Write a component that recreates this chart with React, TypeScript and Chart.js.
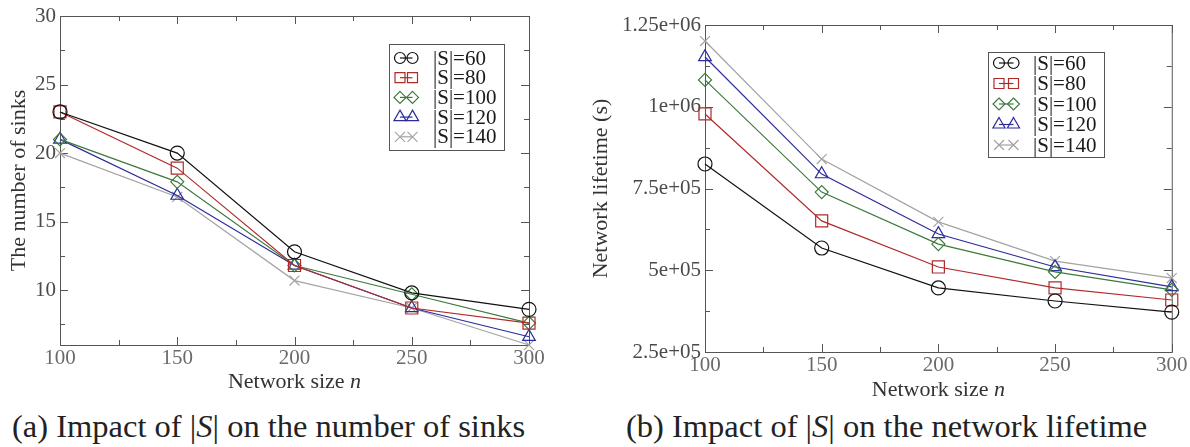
import { useEffect, useRef } from 'react';
import { Chart, registerables } from 'chart.js';

Chart.register(...registerables);

// ---------- data ----------
const networkSizes = [100, 150, 200, 250, 300];
const seriesLabels = ['|S|=60', '|S|=80', '|S|=100', '|S|=120', '|S|=140'];

const sinks60 = [23, 20, 12.8, 9.8, 8.6];
const sinks80 = [23, 18.9, 11.8, 8.7, 7.6];
const sinks100 = [21, 17.9, 11.8, 9.7, 7.6];
const sinks120 = [21, 16.9, 11.8, 8.7, 6.6];
const sinks140 = [20, 16.8, 10.7, 8.7, 6.0];

const life60 = [8.25e5, 5.68e5, 4.46e5, 4.06e5, 3.72e5];
const life80 = [9.78e5, 6.51e5, 5.1e5, 4.46e5, 4.09e5];
const life100 = [1.082e6, 7.39e5, 5.8e5, 4.95e5, 4.4e5];
const life120 = [1.152e6, 7.94e5, 6.11e5, 5.1e5, 4.49e5];
const life140 = [1.201e6, 8.4e5, 6.48e5, 5.28e5, 4.76e5];

const xTicks = [100, 150, 200, 250, 300];
const xTickLabels = ['100', '150', '200', '250', '300'];
const sinkTicks = [10, 15, 20, 25, 30];
const sinkTickLabels = ['10', '15', '20', '25', '30'];
const lifeTicks = [2.5e5, 5e5, 7.5e5, 1e6, 1.25e6];
const lifeTickLabels = ['2.5e+05', '5e+05', '7.5e+05', '1e+06', '1.25e+06'];

// ---------- styles ----------
const FONT = '"Liberation Serif", "DejaVu Serif", serif';
const seriesColors = ['#111111', '#b02a2a', '#3d7a3d', '#2b2b9c', '#a3a3a3'];
const pointStyles = ['circle', 'rect', 'rectRot', 'triangle', 'crossRot'];
const pointRadii = [7, 8.5, 6.5, 7.3, 7];
const legendSizes = [5.5, 5, 6, 7, 5];

function drawMarker(ctx: CanvasRenderingContext2D, style: string, x: number, y: number, r: number, color: string) {
  ctx.save();
  ctx.strokeStyle = color;
  ctx.lineWidth = 1.2;
  ctx.beginPath();
  if (style === 'circle') {
    ctx.arc(x, y, r, 0, Math.PI * 2);
  } else if (style === 'rect') {
    ctx.rect(x - r, y - r, 2 * r, 2 * r);
  } else if (style === 'rectRot') {
    ctx.moveTo(x, y - r);
    ctx.lineTo(x + r, y);
    ctx.lineTo(x, y + r);
    ctx.lineTo(x - r, y);
    ctx.closePath();
  } else if (style === 'triangle') {
    ctx.moveTo(x, y - r);
    ctx.lineTo(x + r * 0.866, y + r * 0.5);
    ctx.lineTo(x - r * 0.866, y + r * 0.5);
    ctx.closePath();
  } else {
    ctx.moveTo(x - r, y - r);
    ctx.lineTo(x + r, y + r);
    ctx.moveTo(x + r, y - r);
    ctx.lineTo(x - r, y + r);
  }
  ctx.stroke();
  ctx.restore();
}

function makeFramePlugin(xMinorStep: number, yMinorStep: number) {
  return {
    id: 'frameTicks',
    beforeDatasetsDraw(chart: any) {
      const { ctx, chartArea: a, scales } = chart;
      const xs = scales.x;
      const ys = scales.y;
      ctx.save();
      ctx.strokeStyle = '#555';
      ctx.lineWidth = 1;
      ctx.strokeRect(a.left + 0.5, a.top + 0.5, a.right - a.left, a.bottom - a.top);
      ctx.beginPath();
      const majX = xs.ticks.map((t: any) => t.value);
      const majY = ys.ticks.map((t: any) => t.value);
      const drawX = (v: number, len: number) => {
        const p = Math.round(xs.getPixelForValue(v)) + 0.5;
        ctx.moveTo(p, a.bottom);
        ctx.lineTo(p, a.bottom - len);
        ctx.moveTo(p, a.top);
        ctx.lineTo(p, a.top + len);
      };
      const drawY = (v: number, len: number) => {
        const p = Math.round(ys.getPixelForValue(v)) + 0.5;
        ctx.moveTo(a.left, p);
        ctx.lineTo(a.left + len, p);
        ctx.moveTo(a.right, p);
        ctx.lineTo(a.right - len, p);
      };
      majX.forEach((v: number) => drawX(v, 8));
      majY.forEach((v: number) => drawY(v, 8));
      for (let v = Math.ceil(xs.min / xMinorStep) * xMinorStep; v <= xs.max + 1e-9; v += xMinorStep) {
        if (!majX.some((m: number) => Math.abs(m - v) < 1e-6)) drawX(v, 5);
      }
      for (let v = Math.ceil(ys.min / yMinorStep) * yMinorStep; v <= ys.max + 1e-9; v += yMinorStep) {
        if (!majY.some((m: number) => Math.abs(m - v) < 1e-6 * Math.max(1, Math.abs(m)))) drawY(v, 5);
      }
      ctx.stroke();
      ctx.restore();
    },
  };
}

function makeXTitlePlugin(baseline: number) {
  return {
    id: 'xTitleMixed',
    afterDraw(chart: any) {
      const { ctx, chartArea: a } = chart;
      const cx = (a.left + a.right) / 2;
      ctx.save();
      ctx.fillStyle = '#333';
      ctx.textBaseline = 'alphabetic';
      ctx.font = `22px ${FONT}`;
      const t1 = 'Network size ';
      const w1 = ctx.measureText(t1).width;
      ctx.font = `italic 22px ${FONT}`;
      const w2 = ctx.measureText('n').width;
      const x0 = cx - (w1 + w2) / 2;
      ctx.font = `22px ${FONT}`;
      ctx.fillText(t1, x0, baseline);
      ctx.font = `italic 22px ${FONT}`;
      ctx.fillText('n', x0 + w1, baseline);
      ctx.restore();
    },
  };
}

interface LegendBox {
  x: number; y: number; w: number; h: number;
  row0: number; step: number; m1: number; m2: number; tx: number;
}

function makeLegendPlugin(b: LegendBox) {
  return {
    id: 'boxLegend',
    afterDraw(chart: any) {
      const { ctx } = chart;
      ctx.save();
      ctx.fillStyle = '#fff';
      ctx.fillRect(b.x, b.y, b.w, b.h);
      ctx.strokeStyle = '#555';
      ctx.lineWidth = 1;
      ctx.strokeRect(b.x + 0.5, b.y + 0.5, b.w, b.h);
      ctx.font = `21px ${FONT}`;
      ctx.textBaseline = 'middle';
      ctx.fillStyle = '#1a1a1a';
      seriesLabels.forEach((lab, i) => {
        const y = b.row0 + i * b.step;
        ctx.strokeStyle = seriesColors[i];
        ctx.lineWidth = 1.2;
        ctx.beginPath();
        ctx.moveTo(b.m1, y);
        ctx.lineTo(b.m2, y);
        ctx.stroke();
        drawMarker(ctx, pointStyles[i], b.m1, y, legendSizes[i], seriesColors[i]);
        drawMarker(ctx, pointStyles[i], b.m2, y, legendSizes[i], seriesColors[i]);
        ctx.fillStyle = '#1a1a1a';
        ctx.fillText(lab, b.tx, y + 1);
      });
      ctx.restore();
    },
  };
}

function buildDatasets(series: number[][]) {
  return series.map((vals, i) => ({
    label: seriesLabels[i],
    data: networkSizes.map((n, j) => ({ x: n, y: vals[j] })),
    borderColor: seriesColors[i],
    borderWidth: 1.2,
    pointStyle: pointStyles[i],
    pointRadius: pointRadii[i],
    pointBorderWidth: 1.2,
    pointBorderColor: seriesColors[i],
    pointBackgroundColor: 'rgba(0,0,0,0)',
    fill: false,
    tension: 0,
    clip: false,
  }));
}

interface ChartSpec {
  series: number[][];
  yMin: number; yMax: number;
  yTicks: number[]; yTickLabels: string[];
  yTitle: string; yTitlePad: number;
  yWidth: number; xHeight: number;
  padRight: number; padTop: number;
  yMinor: number;
  xTitleBaseline: number;
  legend: LegendBox;
}

function makeChart(canvas: HTMLCanvasElement, s: ChartSpec) {
  return new Chart(canvas, {
    type: 'line',
    data: { datasets: buildDatasets(s.series) as any },
    options: {
      animation: false,
      responsive: false,
      devicePixelRatio: 1,
      layout: { padding: { left: 0, right: s.padRight, top: s.padTop, bottom: 0 } },
      plugins: { legend: { display: false }, tooltip: { enabled: false } },
      scales: {
        x: {
          type: 'linear',
          min: 100,
          max: 300,
          afterBuildTicks: (sc: any) => { sc.ticks = xTicks.map((v) => ({ value: v })); },
          afterFit: (sc: any) => { sc.height = s.xHeight; },
          ticks: {
            autoSkip: false,
            maxRotation: 0,
            padding: 2.5,
            color: '#6a6a6a',
            font: { family: FONT, size: 21, lineHeight: 1 },
            callback: (v: any) => { const k = xTicks.indexOf(Number(v)); return k >= 0 ? xTickLabels[k] : ''; },
          },
          grid: { display: false, drawTicks: false },
          border: { display: false },
        },
        y: {
          type: 'linear',
          min: s.yMin,
          max: s.yMax,
          afterBuildTicks: (sc: any) => { sc.ticks = s.yTicks.map((v) => ({ value: v })); },
          afterFit: (sc: any) => { sc.width = s.yWidth; },
          ticks: {
            autoSkip: false,
            padding: 4,
            color: '#4a4a4a',
            font: { family: FONT, size: 21, lineHeight: 1 },
            callback: (v: any) => { const k = s.yTicks.indexOf(Number(v)); return k >= 0 ? s.yTickLabels[k] : ''; },
          },
          grid: { display: false, drawTicks: false },
          border: { display: false },
          title: {
            display: true,
            text: s.yTitle,
            color: '#333',
            font: { family: FONT, size: 22, lineHeight: 1 },
            padding: { top: s.yTitlePad, bottom: 0 },
          },
        },
      },
    } as any,
    plugins: [
      makeFramePlugin(25, s.yMinor),
      makeXTitlePlugin(s.xTitleBaseline),
      makeLegendPlugin(s.legend),
    ] as any,
  });
}

export default function App() {
  const leftRef = useRef<HTMLCanvasElement>(null);
  const rightRef = useRef<HTMLCanvasElement>(null);

  useEffect(() => {
    const c1 = makeChart(leftRef.current!, {
      series: [sinks60, sinks80, sinks100, sinks120, sinks140],
      yMin: 6, yMax: 30,
      yTicks: sinkTicks, yTickLabels: sinkTickLabels,
      yTitle: 'The number of sinks', yTitlePad: 8,
      yWidth: 60, xHeight: 55,
      padRight: 61, padTop: 16,
      yMinor: 2.5,
      xTitleBaseline: 388,
      legend: { x: 389, y: 44, w: 115, h: 106, row0: 58, step: 19.7, m1: 400, m2: 412.5, tx: 433 },
    });
    const c2 = makeChart(rightRef.current!, {
      series: [life60, life80, life100, life120, life140],
      yMin: 2.5e5, yMax: 1.25e6,
      yTicks: lifeTicks, yTickLabels: lifeTickLabels,
      yTitle: 'Network lifetime (s)', yTitlePad: 0,
      yWidth: 115, xHeight: 48,
      padRight: 18, padTop: 25,
      yMinor: 1.25e5,
      xTitleBaseline: 396,
      legend: { x: 398, y: 52, w: 116, h: 105, row0: 63, step: 20.5, m1: 409, m2: 423.5, tx: 443 },
    });
    return () => { c1.destroy(); c2.destroy(); };
  }, []);

  const cap: React.CSSProperties = {
    position: 'absolute',
    top: 410,
    fontFamily: FONT,
    fontSize: 32.5,
    lineHeight: '32px',
    whiteSpace: 'nowrap',
    color: '#222',
  };

  return (
    <div style={{ position: 'absolute', left: 0, top: 0, width: 1190, height: 447, background: '#fff', overflow: 'hidden' }}>
      <canvas ref={leftRef} width={590} height={400} style={{ position: 'absolute', left: 0, top: 0 }} />
      <canvas ref={rightRef} width={600} height={400} style={{ position: 'absolute', left: 590, top: 0 }} />
      <div style={{ ...cap, left: 12 }}>(a) Impact of |<i>S</i>| on the number of sinks</div>
      <div style={{ ...cap, left: 626 }}>(b) Impact of |<i>S</i>| on the network lifetime</div>
    </div>
  );
}
